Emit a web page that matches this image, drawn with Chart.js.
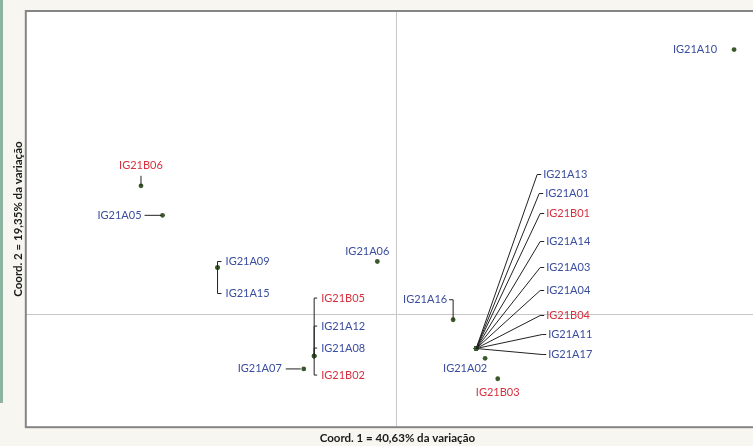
<!DOCTYPE html>
<html>
<head>
<meta charset="utf-8">
<script src="https://cdn.jsdelivr.net/npm/chart.js"></script>
<style>
    html, body { margin: 0; padding: 0; overflow: hidden; }
    body { width: 753px; height: 446px; background: #f7f6f1; position: relative; }
    .faixa { position: absolute; left: 0; top: 0; width: 3px; height: 403px; background: #8fb3a3; }
    canvas { position: absolute; left: 0; top: 0; }
</style>
</head>
<body>
<div class="faixa"></div>
<canvas id="pcoa" width="775" height="446"></canvas>
<script>
// DADOS (coordenadas da PCoA)
const genotipos = ["IG21A10", "IG21B06", "IG21A05", "IG21A09", "IG21A15", "IG21A06",
    "IG21B05", "IG21A12", "IG21A08", "IG21B02", "IG21A07", "IG21A16",
    "IG21A13", "IG21A01", "IG21B01", "IG21A14", "IG21A03", "IG21A04", "IG21B04", "IG21A11", "IG21A17",
    "IG21A02", "IG21B03"];
const coord1 = [0.453, -0.345, -0.316, -0.242, -0.242, -0.027,
    -0.112, -0.112, -0.112, -0.112, -0.126, 0.075,
    0.106, 0.106, 0.106, 0.106, 0.106, 0.106, 0.106, 0.106, 0.106,
    0.118, 0.135];
const coord2 = [0.349, 0.169, 0.130, 0.061, 0.061, 0.069,
    -0.056, -0.056, -0.056, -0.056, -0.073, -0.008,
    -0.046, -0.046, -0.046, -0.046, -0.046, -0.046, -0.046, -0.046, -0.046,
    -0.059, -0.086];

const tituloX = "Coord. 1 = 40,63% da variação";
const tituloY = "Coord. 2 = 19,35% da variação";

// POSICAO DOS ROTULOS (px, relativo ao ponto)
const rotulos = {
    IG21A10: { dx: -17, dy: 0, align: "right", linha: "nenhuma" },
    IG21B06: { dx: 0, dy: -20, align: "center", linha: "v" },
    IG21A05: { dx: -21, dy: 0, align: "right", linha: "h", l0: -18, l1: -1 },
    IG21A09: { dx: 8, dy: -6, align: "left", linha: "chave", tick: 4 },
    IG21A15: { dx: 8, dy: 26, align: "left", linha: "chave", tick: 4 },
    IG21A06: { dx: -10, dy: -10, align: "center", linha: "nenhuma" },
    IG21B05: { dx: 7, dy: -58, align: "left", linha: "chave", tick: 3 },
    IG21A12: { dx: 7, dy: -30, align: "left", linha: "chave", tick: 3 },
    IG21A08: { dx: 7, dy: -8, align: "left", linha: "chave", tick: 3 },
    IG21B02: { dx: 7, dy: 19, align: "left", linha: "chave", tick: 3 },
    IG21A07: { dx: -22, dy: 0, align: "right", linha: "h", l0: -18, l1: -3 },
    IG21A16: { dx: -6, dy: -20, align: "right", linha: "chave", tick: -4 },
    IG21A13: { dx: 67, dy: -174, align: "left", linha: "leque" },
    IG21A01: { dx: 69, dy: -155, align: "left", linha: "leque" },
    IG21B01: { dx: 70, dy: -135, align: "left", linha: "leque" },
    IG21A14: { dx: 70, dy: -107, align: "left", linha: "leque" },
    IG21A03: { dx: 70, dy: -81, align: "left", linha: "leque" },
    IG21A04: { dx: 70, dy: -58, align: "left", linha: "leque" },
    IG21B04: { dx: 70, dy: -33, align: "left", linha: "leque" },
    IG21A11: { dx: 72, dy: -14, align: "left", linha: "leque" },
    IG21A17: { dx: 72, dy: 6, align: "left", linha: "leque" },
    IG21A02: { dx: -20, dy: 10, align: "center", linha: "nenhuma" },
    IG21B03: { dx: 0, dy: 14, align: "center", linha: "nenhuma" }
};

const corA = "#3a4d9f";
const corB = "#d7303e";

// FUNDO, MOLDURA E EIXOS CENTRAIS
const moldura = {
    id: "moldura",
    beforeDatasetsDraw(chart) {
        const { ctx, chartArea: a, scales } = chart;
        ctx.save();
        ctx.fillStyle = "#ffffff";
        ctx.fillRect(a.left, a.top, a.right - a.left, a.bottom - a.top);

        const x0 = Math.round(scales.x.getPixelForValue(0)) - 0.5;
        const y0 = Math.round(scales.y.getPixelForValue(0)) + 0.5;
        ctx.strokeStyle = "#c6c6c6";
        ctx.lineWidth = 1;
        ctx.beginPath();
        ctx.moveTo(x0, a.top);
        ctx.lineTo(x0, a.bottom);
        ctx.moveTo(a.left, y0);
        ctx.lineTo(a.right, y0);
        ctx.stroke();

        ctx.strokeStyle = "#858585";
        ctx.lineWidth = 2;
        ctx.strokeRect(a.left, a.top, a.right - a.left, a.bottom - a.top);
        ctx.restore();
    }
};

// ROTULOS E LINHAS DE CHAMADA
const nomes = {
    id: "nomes",
    afterDatasetsDraw(chart) {
        const ctx = chart.ctx;
        const sx = chart.scales.x;
        const sy = chart.scales.y;
        ctx.save();
        ctx.font = "11px Lato";
        ctx.textBaseline = "middle";
        ctx.strokeStyle = "#222222";
        ctx.lineWidth = 1;

        genotipos.forEach((g, i) => {
            const px = sx.getPixelForValue(coord1[i]);
            const py = sy.getPixelForValue(coord2[i]);
            const r = rotulos[g];

            ctx.beginPath();
            if (r.linha === "v") {
                ctx.moveTo(px, py + r.dy + 10);
                ctx.lineTo(px, py);
            } else if (r.linha === "h") {
                ctx.moveTo(px + r.l0, py);
                ctx.lineTo(px + r.l1, py);
            } else if (r.linha === "chave") {
                ctx.moveTo(px, py);
                ctx.lineTo(px, py + r.dy);
                ctx.lineTo(px + r.tick, py + r.dy);
            } else if (r.linha === "leque") {
                ctx.moveTo(px, py);
                ctx.lineTo(px + r.dx - 6, py + r.dy);
                ctx.lineTo(px + r.dx - 2, py + r.dy);
            }
            ctx.stroke();

            ctx.fillStyle = g.charAt(4) === "B" ? corB : corA;
            ctx.textAlign = r.align;
            ctx.fillText(g, px + r.dx, py + r.dy);
        });
        ctx.restore();
    }
};

function eixo(min, max, texto) {
    return {
        type: "linear",
        min: min,
        max: max,
        ticks: { display: false },
        grid: { display: false, drawTicks: false },
        border: { display: false },
        title: {
            display: true,
            text: texto,
            color: "#1a1a1a",
            font: { family: "Lato", size: 11.5, weight: "bold" },
            padding: { top: 4, bottom: 1 }
        }
    };
}

new Chart(document.getElementById("pcoa"), {
    type: "scatter",
    data: {
        datasets: [{
            data: genotipos.map((g, i) => ({ x: coord1[i], y: coord2[i] })),
            pointRadius: 2.4,
            pointBackgroundColor: "#3b5a2c",
            pointBorderWidth: 0
        }]
    },
    options: {
        responsive: false,
        animation: false,
        layout: { padding: { left: 7, top: 11, right: 6, bottom: 0 } },
        plugins: { legend: { display: false }, tooltip: { enabled: false } },
        scales: {
            x: eixo(-0.5, 0.5, tituloX),
            y: eixo(-0.15, 0.40, tituloY)
        }
    },
    plugins: [moldura, nomes]
});
</script>
</body>
</html>
